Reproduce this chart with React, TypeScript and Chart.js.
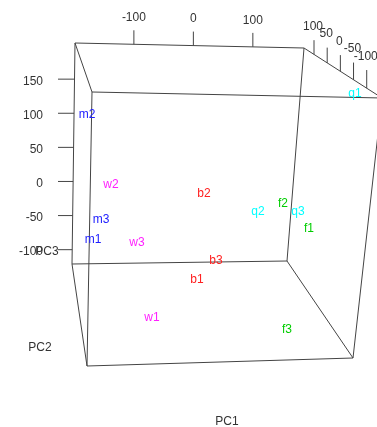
import React, { useEffect, useRef } from "react";
import { Chart, registerables } from "chart.js";

Chart.register(...registerables);

// ---- Data: sample labels, read as positions in the projected view plane ----
const sampleLabels = ["q1", "m2", "w2", "b2", "f2", "q2", "q3", "f1", "m3", "m1", "w3", "b3", "b1", "w1", "f3"];
const sampleViewX = [355, 87, 111, 204, 283, 258, 298, 309, 101, 93, 137, 216, 197, 152, 287];
const sampleViewY = [92, 113, 183, 192, 202, 210, 210, 227, 218, 238, 241, 259, 278, 316, 328];
const sampleGroups = ["q", "m", "w", "b", "f", "q", "q", "f", "m", "m", "w", "b", "b", "w", "f"];

// ---- Axis ticks and ranges (PC units) ----
const pc1Ticks = [-100, 0, 100];
const pc2Ticks = [100, 50, 0, -50, -100];
const pc3Ticks = [150, 100, 50, 0, -50, -100];
const pc1Range = [-199, 186];
const pc2Range = [138, -158];
const pc3Range = [-121, 203];
const axisTitles = ["PC1", "PC2", "PC3"];

// ---- View (projection of the bounding box corners) ----
const VIEW_W = 377;
const VIEW_H = 427;
const BACK = { tl: [75, 43], tr: [304, 48], br: [287, 261], bl: [72, 264] };
const FRONT = { tl: [92, 92], tr: [382, 98], br: [353, 358], bl: [87, 366] };
const TITLE_POS: Record<string, number[]> = { PC1: [227, 420], PC2: [40, 346], PC3: [47, 250] };

const GROUP_COLORS: Record<string, string> = {
  b: "#ff2020",
  f: "#00cd00",
  m: "#2020ff",
  q: "#00ffff",
  w: "#ff20ff",
};
const FRAME_COLOR = "#444444";
const TEXT_COLOR = "#333333";
const FONT = "12px 'Liberation Sans', Arial, sans-serif";
const TEXT_DY = 1.5;

type Pt = { x: number; y: number };

function along(a: number[], b: number[], range: number[], v: number): Pt {
  const t = (v - range[0]) / (range[1] - range[0]);
  return { x: a[0] + t * (b[0] - a[0]), y: a[1] + t * (b[1] - a[1]) };
}

export default function App() {
  const canvasRef = useRef<HTMLCanvasElement | null>(null);

  useEffect(() => {
    const canvas = canvasRef.current;
    if (!canvas) return;

    const segments: Pt[][] = [];
    const seg = (a: number[], b: number[]) => segments.push([{ x: a[0], y: a[1] }, { x: b[0], y: b[1] }]);
    // box edges
    seg(BACK.tl, BACK.tr); seg(BACK.tr, BACK.br); seg(BACK.br, BACK.bl); seg(BACK.bl, BACK.tl);
    seg(FRONT.tl, FRONT.tr); seg(FRONT.tr, FRONT.br); seg(FRONT.br, FRONT.bl); seg(FRONT.bl, FRONT.tl);
    seg(BACK.tl, FRONT.tl); seg(BACK.tr, FRONT.tr); seg(BACK.br, FRONT.br); seg(BACK.bl, FRONT.bl);

    const tickTexts: { text: string; pos: Pt; align: CanvasTextAlign }[] = [];

    // PC1 along back top edge
    pc1Ticks.forEach((v) => {
      const p = along(BACK.tl, BACK.tr, pc1Range, v);
      const e = { x: p.x, y: p.y - 14 };
      segments.push([p, e]);
      tickTexts.push({ text: String(v), pos: { x: e.x, y: e.y - 14 }, align: "center" });
    });
    // PC2 along top right depth edge
    pc2Ticks.forEach((v) => {
      const p = along(BACK.tr, FRONT.tr, pc2Range, v);
      const t = (v - pc2Range[0]) / (pc2Range[1] - pc2Range[0]);
      const len = 13.5 + 5.8 * t;
      const e = { x: p.x, y: p.y - len };
      segments.push([p, e]);
      tickTexts.push({ text: String(v), pos: { x: e.x - 1, y: e.y - 15 }, align: "center" });
    });
    // PC3 along back left edge
    pc3Ticks.forEach((v) => {
      const p = along(BACK.bl, BACK.tl, pc3Range, v);
      const e = { x: 58, y: p.y };
      segments.push([p, e]);
      tickTexts.push({ text: String(v), pos: { x: e.x - 15, y: e.y + 1 }, align: "right" });
    });

    const datasets: any[] = segments.map((s) => ({
      type: "scatter",
      data: s,
      showLine: true,
      borderColor: FRAME_COLOR,
      borderWidth: 1,
      pointRadius: 0,
      pointHoverRadius: 0,
      fill: false,
    }));

    const textSets: { index: number; texts: string[]; colors: string[]; aligns: CanvasTextAlign[] }[] = [];
    const addText = (pts: Pt[], texts: string[], colors: string[], aligns: CanvasTextAlign[]) => {
      textSets.push({ index: datasets.length, texts, colors, aligns });
      datasets.push({
        type: "scatter",
        data: pts,
        showLine: false,
        pointRadius: 0,
        pointHoverRadius: 0,
      });
    };

    addText(
      tickTexts.map((t) => t.pos),
      tickTexts.map((t) => t.text),
      tickTexts.map(() => TEXT_COLOR),
      tickTexts.map((t) => t.align)
    );
    addText(
      axisTitles.map((t) => ({ x: TITLE_POS[t][0], y: TITLE_POS[t][1] })),
      axisTitles,
      axisTitles.map(() => TEXT_COLOR),
      axisTitles.map(() => "center" as CanvasTextAlign)
    );
    addText(
      sampleLabels.map((_, i) => ({ x: sampleViewX[i], y: sampleViewY[i] })),
      sampleLabels,
      sampleGroups.map((g) => GROUP_COLORS[g]),
      sampleLabels.map(() => "center" as CanvasTextAlign)
    );

    const textPlugin = {
      id: "labels3d",
      afterDatasetsDraw(chart: any) {
        const ctx = chart.ctx as CanvasRenderingContext2D;
        ctx.save();
        ctx.font = FONT;
        ctx.textBaseline = "middle";
        textSets.forEach((ts) => {
          const meta = chart.getDatasetMeta(ts.index);
          meta.data.forEach((el: any, j: number) => {
            ctx.fillStyle = ts.colors[j];
            ctx.textAlign = ts.aligns[j];
            ctx.fillText(ts.texts[j], el.x, el.y + TEXT_DY);
          });
        });
        ctx.restore();
      },
    };

    const chart = new Chart(canvas, {
      type: "scatter",
      data: { datasets },
      options: {
        animation: false,
        responsive: false,
        events: [],
        layout: { padding: 0 },
        plugins: { legend: { display: false }, tooltip: { enabled: false } },
        scales: {
          x: { type: "linear", min: 0, max: VIEW_W, display: false },
          y: { type: "linear", min: 0, max: VIEW_H, reverse: true, display: false },
        },
      },
      plugins: [textPlugin],
    });

    return () => chart.destroy();
  }, []);

  return (
    <div style={{ position: "absolute", left: 0, top: 0, width: VIEW_W, height: VIEW_H, background: "#fff" }}>
      <canvas ref={canvasRef} width={VIEW_W} height={VIEW_H} />
    </div>
  );
}
